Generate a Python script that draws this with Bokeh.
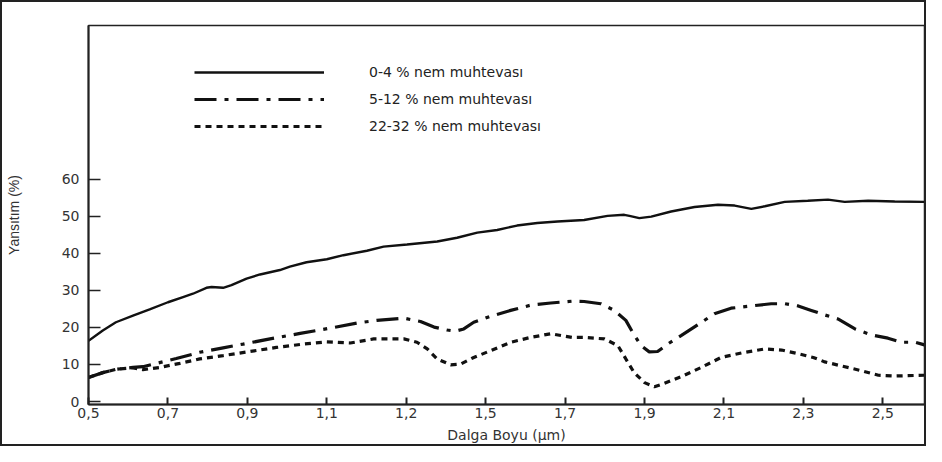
from bokeh.plotting import figure
from bokeh.models import FixedTicker, Legend, LegendItem, Range1d
from bokeh.embed import file_html
from bokeh.resources import INLINE

# ---- data ----
dry_x = [0.50, 0.536, 0.569, 0.612, 0.654, 0.70, 0.738, 0.763, 0.797, 0.81, 0.839, 0.86, 0.898,
         0.932, 0.982, 1.007, 1.049, 1.10, 1.142, 1.201, 1.243, 1.302, 1.378, 1.428, 1.479, 1.529,
         1.579, 1.63, 1.681, 1.748, 1.807, 1.849, 1.862, 1.887, 1.917, 1.967, 2.026, 2.085, 2.127,
         2.169, 2.203, 2.253, 2.311, 2.362, 2.404, 2.463, 2.53, 2.605]
dry_y = [16.4, 19.2, 21.4, 23.2, 24.9, 26.8, 28.2, 29.1, 30.7, 30.9, 30.7, 31.4, 33.2,
         34.3, 35.5, 36.4, 37.6, 38.4, 39.5, 40.7, 41.8, 42.4, 43.2, 44.2, 45.6, 46.3,
         47.5, 48.2, 48.6, 49.0, 50.1, 50.4, 50.1, 49.5, 49.9, 51.3, 52.5, 53.1, 52.9,
         52.0, 52.7, 53.9, 54.2, 54.5, 53.9, 54.2, 54.0, 53.9]

mid_x = [0.50, 0.536, 0.569, 0.612, 0.637, 0.679, 0.721, 0.78, 0.839, 0.889, 0.957, 1.033, 1.108,
         1.176, 1.226, 1.294, 1.336, 1.37, 1.403, 1.424, 1.445, 1.47, 1.512, 1.563, 1.613, 1.664,
         1.719, 1.748, 1.79, 1.824, 1.853, 1.87, 1.891, 1.912, 1.933, 1.958, 1.992, 2.034, 2.076,
         2.118, 2.169, 2.219, 2.253, 2.287, 2.32, 2.353, 2.387, 2.43, 2.471, 2.513, 2.547, 2.581, 2.605]
mid_y = [6.5, 7.8, 8.7, 9.2, 9.4, 10.5, 11.6, 13.3, 14.5, 15.5, 16.9, 18.4, 19.8,
         21.2, 21.9, 22.5, 21.6, 20.1, 19.3, 19.0, 19.6, 21.4, 23.0, 24.6, 26.0, 26.6,
         27.1, 27.0, 26.4, 24.6, 21.9, 18.7, 15.1, 13.4, 13.5, 15.5, 17.8, 20.7, 23.7,
         25.2, 25.8, 26.4, 26.4, 25.8, 24.6, 23.4, 22.3, 19.6, 18.0, 17.1, 16.0, 16.0, 15.3]

wet_x = [0.50, 0.536, 0.569, 0.612, 0.637, 0.679, 0.73, 0.78, 0.839, 0.906, 0.973, 1.04, 1.10,
         1.159, 1.218, 1.294, 1.327, 1.353, 1.378, 1.412, 1.437, 1.47, 1.512, 1.563, 1.613, 1.664,
         1.719, 1.748, 1.799, 1.833, 1.853, 1.874, 1.90, 1.925, 1.95, 1.992, 2.043, 2.093, 2.144,
         2.203, 2.245, 2.287, 2.325, 2.354, 2.396, 2.447, 2.489, 2.53, 2.605]
wet_y = [6.5, 7.8, 8.7, 9.1, 8.6, 9.2, 10.3, 11.5, 12.4, 13.5, 14.6, 15.5, 16.1,
         15.8, 16.9, 16.9, 16.0, 14.2, 11.5, 9.9, 10.1, 11.9, 13.7, 16.0, 17.3, 18.3,
         17.3, 17.3, 16.9, 15.1, 11.5, 7.8, 5.1, 4.0, 4.9, 6.7, 9.2, 11.9, 13.1,
         14.2, 13.9, 12.9, 11.9, 10.7, 9.6, 8.3, 7.1, 6.9, 7.1]

series_names = ["0-4 % nem muhtevası", "5-12 % nem muhtevası", "22-32 % nem muhtevası"]

x_tick_values = [0.5, 0.7, 0.9, 1.1, 1.3, 1.5, 1.7, 1.9, 2.1, 2.3, 2.5]
x_tick_labels = ["0,5", "0,7", "0,9", "1,1", "1,2", "1,5", "1,7", "1,9", "2,1", "2,3", "2,5"]
y_tick_values = [0, 10, 20, 30, 40, 50, 60]

x_title = "Dalga Boyu (µm)"
y_title = "Yansıtım (%)"

# ---- figure ----
p = figure(width=926, height=446, output_backend="svg", toolbar_location=None,
           x_range=Range1d(0.5, 2.605), y_range=Range1d(-0.8, 101.5),
           min_border_left=86, min_border_right=4, min_border_top=23, min_border_bottom=44)
p.styles = {"border": "2px solid #222", "box-sizing": "border-box"}

p.grid.visible = False
p.outline_line_color = "#222"
p.outline_line_width = 1.5
p.background_fill_color = "white"
p.border_fill_color = "white"

r1 = p.line(dry_x, dry_y, line_color="#111", line_width=2.4)
r2 = p.line(mid_x, mid_y, line_color="#111", line_width=3.2, line_dash="22 8 4 8")
r3 = p.line(wet_x, wet_y, line_color="#111", line_width=3.2, line_dash="6 5")

legend = Legend(items=[LegendItem(label=series_names[0], renderers=[r1]),
                       LegendItem(label=series_names[1], renderers=[r2]),
                       LegendItem(label=series_names[2], renderers=[r3])],
                location=(106, 268), orientation="vertical",
                glyph_width=130, glyph_height=20, label_height=20, spacing=7,
                label_standoff=45, padding=0, margin=0,
                border_line_color=None, background_fill_alpha=0,
                label_text_font="DejaVu Sans", label_text_font_size="14px",
                label_text_color="#222")
p.add_layout(legend)

xa = p.xaxis[0]
xa.ticker = FixedTicker(ticks=x_tick_values)
xa.major_label_overrides = {v: l for v, l in zip(x_tick_values, x_tick_labels)}
xa.minor_tick_line_color = None
xa.major_tick_in = 7
xa.major_tick_out = 0
xa.axis_line_width = 2
xa.axis_line_color = "#222"
xa.major_tick_line_width = 2
xa.major_tick_line_color = "#222"
xa.major_label_text_font = "DejaVu Sans"
xa.major_label_text_font_size = "14px"
xa.major_label_text_color = "#333"
xa.major_label_standoff = 3
xa.axis_label = x_title
xa.axis_label_text_font = "DejaVu Sans"
xa.axis_label_text_font_size = "14px"
xa.axis_label_text_font_style = "normal"
xa.axis_label_text_color = "#333"
xa.axis_label_standoff = 6

ya = p.yaxis[0]
ya.ticker = FixedTicker(ticks=y_tick_values)
ya.minor_tick_line_color = None
ya.major_tick_in = 12
ya.major_tick_out = 0
ya.axis_line_width = 2
ya.axis_line_color = "#222"
ya.major_tick_line_width = 1.5
ya.major_tick_line_color = "#222"
ya.major_label_text_font = "DejaVu Sans"
ya.major_label_text_font_size = "14px"
ya.major_label_text_color = "#333"
ya.major_label_standoff = 9
ya.axis_label = y_title
ya.axis_label_text_font = "Liberation Sans"
ya.axis_label_text_font_size = "14px"
ya.axis_label_text_font_style = "normal"
ya.axis_label_text_color = "#333"
ya.axis_label_standoff = 37

open("out.html", "w").write(file_html(p, INLINE))
